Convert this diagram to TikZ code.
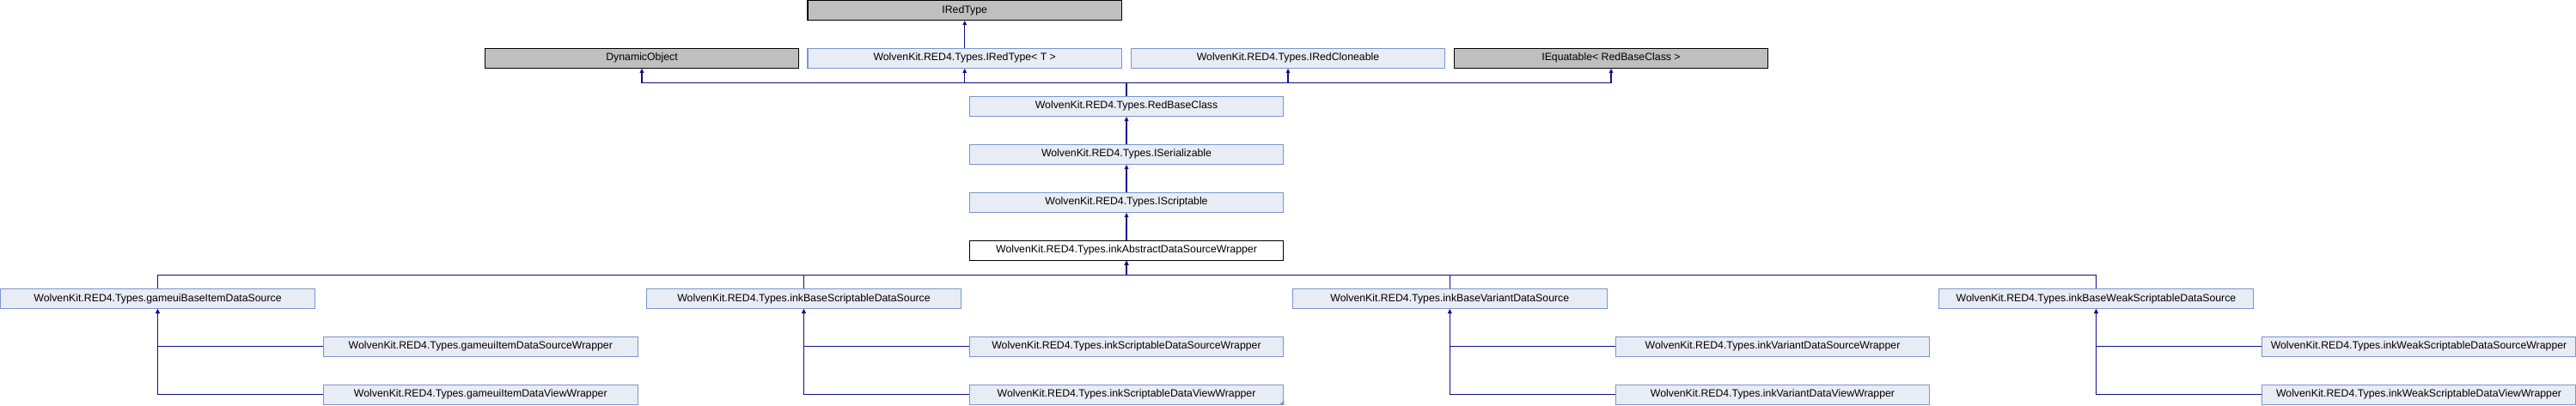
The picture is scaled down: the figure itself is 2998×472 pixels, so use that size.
\documentclass[tikz,border=0pt]{standalone}
\usepackage{fontspec}
\setmainfont{Liberation Sans}
\usetikzlibrary{arrows.meta}
\definecolor{boxfill}{HTML}{E8ECF4}
\definecolor{boxline}{HTML}{7C95CB}
\definecolor{grayfill}{HTML}{BFBFBF}
\definecolor{edgecol}{HTML}{10108C}
\tikzset{
  cls/.style={draw=boxline, fill=boxfill, line width=1.1pt, rectangle, minimum width=365.5pt, minimum height=23pt, inner sep=0pt,
    font=\fontsize{12.3}{14}\selectfont},
  ext/.style={cls, draw=black, fill=grayfill},
  cur/.style={cls, draw=black, fill=white},
  edge/.style={draw=edgecol, line width=1.2pt, -{Triangle[length=5pt,width=4.5pt]}},
}
\begin{document}
\begin{tikzpicture}[x=1pt,y=-1pt]
\useasboundingbox (0,0) rectangle (2998,472);
% row 0
\node[ext] (iredtype) at (1122.7,12) {IRedType};
% row 1
\node[ext] (dyn) at (747,67.8) {DynamicObject};
\node[cls] (irtt) at (1122.7,67.8) {WolvenKit.RED4.Types.IRedType< T >};
\node[cls] (iclone) at (1499,67.8) {WolvenKit.RED4.Types.IRedCloneable};
\node[ext] (iequ) at (1875,67.8) {IEquatable< RedBaseClass >};
% chain
\node[cls] (rbc) at (1311,123.8) {WolvenKit.RED4.Types.RedBaseClass};
\node[cls] (iser) at (1311,179.8) {WolvenKit.RED4.Types.ISerializable};
\node[cls] (iscr) at (1311,235.8) {WolvenKit.RED4.Types.IScriptable};
\node[cur] (abs) at (1311,291.8) {WolvenKit.RED4.Types.inkAbstractDataSourceWrapper};
% children
\node[cls] (gbi) at (183.5,348) {WolvenKit.RED4.Types.gameuiBaseItemDataSource};
\node[cls] (ibs) at (935.5,348) {WolvenKit.RED4.Types.inkBaseScriptableDataSource};
\node[cls] (ibv) at (1687.3,348) {WolvenKit.RED4.Types.inkBaseVariantDataSource};
\node[cls] (ibw) at (2439.5,348) {WolvenKit.RED4.Types.inkBaseWeakScriptableDataSource};
% grandchildren
\node[cls] (gidsw) at (559.3,403.8) {WolvenKit.RED4.Types.gameuiItemDataSourceWrapper};
\node[cls] (gidvw) at (559.3,459.8) {WolvenKit.RED4.Types.gameuiItemDataViewWrapper};
\node[cls] (isdsw) at (1311,403.8) {WolvenKit.RED4.Types.inkScriptableDataSourceWrapper};
\node[cls] (isdvw) at (1311,459.8) {WolvenKit.RED4.Types.inkScriptableDataViewWrapper};
\node[cls] (ivdsw) at (2063,403.8) {WolvenKit.RED4.Types.inkVariantDataSourceWrapper};
\node[cls] (ivdvw) at (2063,459.8) {WolvenKit.RED4.Types.inkVariantDataViewWrapper};
\node[cls] (iwdsw) at (2815,403.8) {WolvenKit.RED4.Types.inkWeakScriptableDataSourceWrapper};
\node[cls] (iwdvw) at (2815,459.8) {WolvenKit.RED4.Types.inkWeakScriptableDataViewWrapper};
\fill[boxline] (isdvw.south east) -- ++(0,-5.5) -- ++(-5.5,5.5) -- cycle;
% bus coordinates
\coordinate (busA) at (0,96.3);
\coordinate (busB) at (0,320.3);
% edges
\draw[edge] (irtt.north) -- (iredtype.south);
\draw[edge] (rbc.north) -- (rbc.north |- busA) -| (dyn.south);
\draw[edge] (rbc.north) -- (rbc.north |- busA) -| (irtt.south);
\draw[edge] (rbc.north) -- (rbc.north |- busA) -| (iclone.south);
\draw[edge] (rbc.north) -- (rbc.north |- busA) -| (iequ.south);
\draw[edge] (iser.north) -- (rbc.south);
\draw[edge] (iscr.north) -- (iser.south);
\draw[edge] (abs.north) -- (iscr.south);
\draw[edge] (gbi.north) -- (gbi.north |- busB) -| (abs.south);
\draw[edge] (ibs.north) -- (ibs.north |- busB) -| (abs.south);
\draw[edge] (ibv.north) -- (ibv.north |- busB) -| (abs.south);
\draw[edge] (ibw.north) -- (ibw.north |- busB) -| (abs.south);
\draw[edge] (gidsw.west) -| (gbi.south);
\draw[edge] (gidvw.west) -| (gbi.south);
\draw[edge] (isdsw.west) -| (ibs.south);
\draw[edge] (isdvw.west) -| (ibs.south);
\draw[edge] (ivdsw.west) -| (ibv.south);
\draw[edge] (ivdvw.west) -| (ibv.south);
\draw[edge] (iwdsw.west) -| (ibw.south);
\draw[edge] (iwdvw.west) -| (ibw.south);
\end{tikzpicture}
\end{document}
